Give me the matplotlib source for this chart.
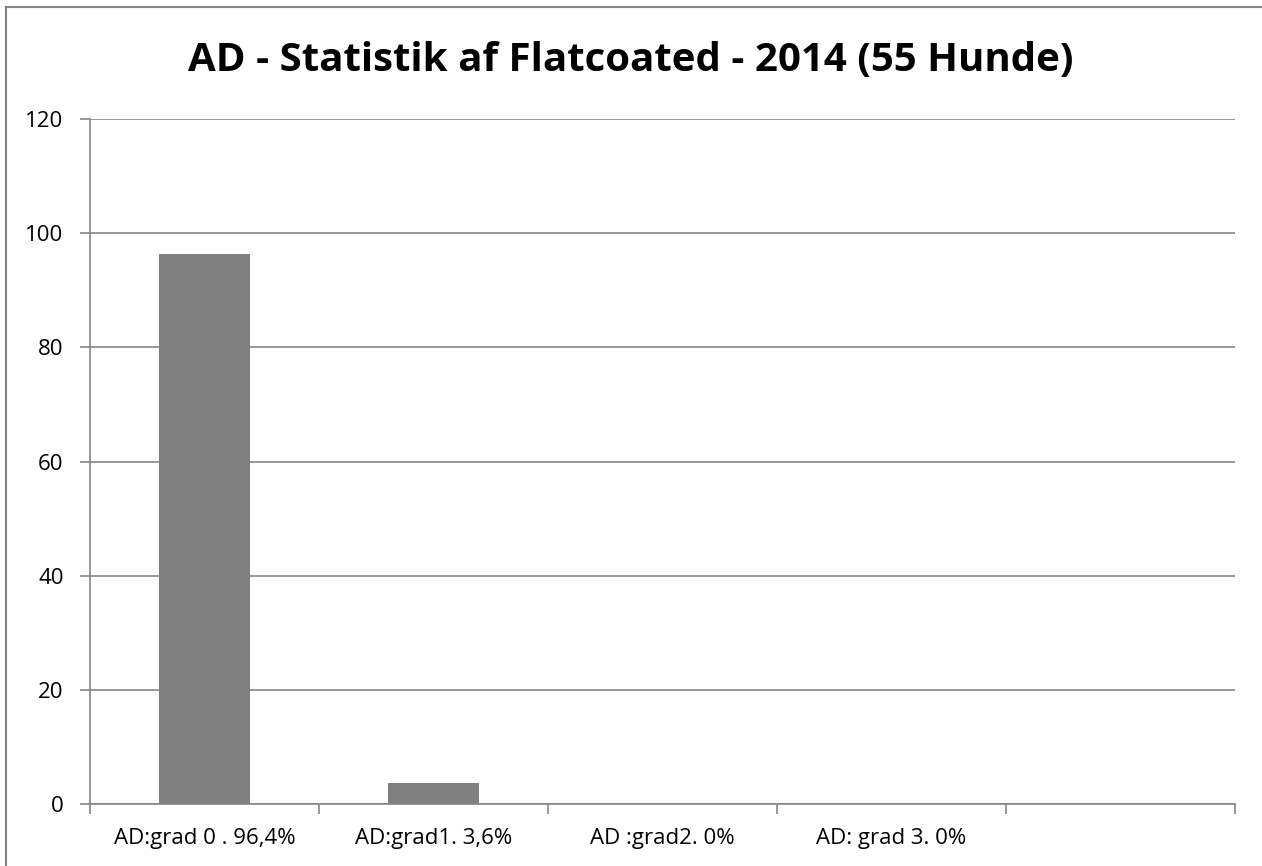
import matplotlib.pyplot as plt
import numpy as np

plt.rcParams["font.family"] = ["Open Sans", "DejaVu Sans"]

categories = ["AD:grad 0 . 96,4%", "AD:grad1. 3,6%", "AD :grad2. 0%", "AD: grad 3. 0%", ""]
values = [96.4, 3.6, 0, 0, 0]
title = "AD - Statistik af Flatcoated - 2014 (55 Hunde)"

GRAY = "#868686"
BAR = "#808080"

fig = plt.figure(figsize=(12.62, 8.66), dpi=100)
ax = fig.add_axes([90 / 1262, 1 - 804 / 866, (1235 - 90) / 1262, (804 - 119) / 866])

x = np.arange(len(categories))
ax.bar(x, values, width=0.395, color=BAR, zorder=2)

ax.set_xlim(-0.5, len(categories) - 0.5)
ax.set_ylim(0, 120)
ax.set_yticks(np.arange(0, 121, 20))
ax.set_xticks(x)
ax.set_xticklabels(categories, fontsize=16)
ax.tick_params(axis="x", length=0, pad=17)
ax.set_xticks(np.arange(-0.5, len(categories), 1), minor=True)
ax.tick_params(axis="x", which="minor", length=7, color=GRAY, width=1.2)
ax.tick_params(axis="y", length=7, color=GRAY, width=1.2, labelsize=16, pad=12)

ax.grid(True, axis="y", color=GRAY, lw=1.2, zorder=0)
for side in ["top", "right"]:
    ax.spines[side].set_visible(False)
for side in ["left", "bottom"]:
    ax.spines[side].set_color(GRAY)
    ax.spines[side].set_linewidth(1.2)

fig.text(0.5, 1 - 71 / 866, title, ha="center", va="baseline",
         fontsize=29, fontweight="bold")

# outer chart border (only top and left visible in the crop)
fig.add_artist(plt.Line2D([6 / 1262, 6 / 1262], [0, 1 - 7 / 866], color=GRAY, lw=1.5,
                          transform=fig.transFigure))
fig.add_artist(plt.Line2D([6 / 1262, 1], [1 - 7 / 866, 1 - 7 / 866], color=GRAY, lw=1.5,
                          transform=fig.transFigure))

fig.savefig("out.png", dpi=100)
plt.close(fig)
